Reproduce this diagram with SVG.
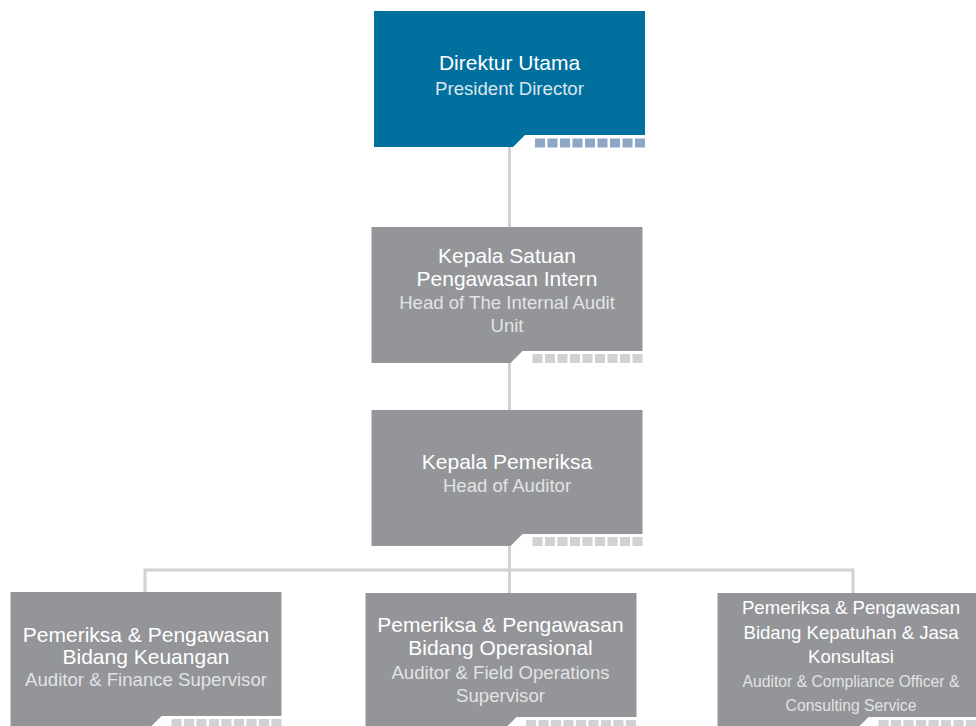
<svg xmlns="http://www.w3.org/2000/svg" width="976" height="726" viewBox="0 0 976 726">
<defs>
<style>
.blue{fill:#02709e}
.grey{fill:#939598}
.sqb{fill:#8fa7c6}
.sqg{fill:#d1d2d4}
.conn{stroke:#d1d2d4;stroke-width:3;fill:none}
text{font-family:"Liberation Sans",Arial,Helvetica,sans-serif;text-anchor:middle}
.t{fill:#ffffff;font-size:21px}
.s{fill:#e2e3e4;font-size:18.6px}
.sb{fill:#dbe6ee;font-size:18.6px}
.t2{fill:#ffffff;font-size:18.6px}
.s2{fill:#e2e3e4;font-size:15.7px}
</style>
<g id="sqblue" class="sqb">
<rect x="0" y="0" width="10" height="9"/><rect x="12.5" y="0" width="10" height="9"/><rect x="25" y="0" width="10" height="9"/><rect x="37.5" y="0" width="10" height="9"/><rect x="50" y="0" width="10" height="9"/><rect x="62.5" y="0" width="10" height="9"/><rect x="75" y="0" width="10" height="9"/><rect x="87.5" y="0" width="10" height="9"/><rect x="100" y="0" width="10" height="9"/>
</g>
<g id="sqgrey" class="sqg">
<rect x="0" y="0" width="10" height="9"/><rect x="12.5" y="0" width="10" height="9"/><rect x="25" y="0" width="10" height="9"/><rect x="37.5" y="0" width="10" height="9"/><rect x="50" y="0" width="10" height="9"/><rect x="62.5" y="0" width="10" height="9"/><rect x="75" y="0" width="10" height="9"/><rect x="87.5" y="0" width="10" height="9"/><rect x="100" y="0" width="10" height="9"/>
</g>
<path id="shape" d="M0 0 H271 V124 H151 L139 136 H0 Z"/>
</defs>

<g id="connectors">
<line class="conn" x1="509.5" y1="147" x2="509.5" y2="227"/>
<line class="conn" x1="509.5" y1="363" x2="509.5" y2="410"/>
<line class="conn" x1="509.5" y1="546" x2="509.5" y2="593"/>
<polyline class="conn" points="145,592 145,570 853,570 853,593"/>
</g>

<g id="n1">
<use href="#shape" class="blue" x="374" y="11"/>
<use href="#sqblue" x="535" y="138.5"/>
<text class="t" x="509.5" y="70">Direktur Utama</text>
<text class="sb" x="509.5" y="95">President Director</text>
</g>

<g id="n2">
<use href="#shape" class="grey" x="371.5" y="227"/>
<use href="#sqgrey" x="532.5" y="354"/>
<text class="t" x="507" y="262.5">Kepala Satuan</text>
<text class="t" x="507" y="285.5">Pengawasan Intern</text>
<text class="s" x="507" y="309">Head of The Internal Audit</text>
<text class="s" x="507" y="332">Unit</text>
</g>

<g id="n3">
<use href="#shape" class="grey" x="371.5" y="410"/>
<use href="#sqgrey" x="532.5" y="537"/>
<text class="t" x="507" y="469">Kepala Pemeriksa</text>
<text class="s" x="507" y="492.3">Head of Auditor</text>
</g>

<g id="n4">
<use href="#shape" class="grey" x="10.5" y="592"/>
<use href="#sqgrey" x="171.5" y="719"/>
<text class="t" x="146" y="641.5">Pemeriksa &amp; Pengawasan</text>
<text class="t" x="146" y="663.5">Bidang Keuangan</text>
<text class="s" x="146" y="686">Auditor &amp; Finance Supervisor</text>
</g>

<g id="n5">
<use href="#shape" class="grey" x="365.5" y="593"/>
<use href="#sqgrey" x="526" y="720"/>
<text class="t" x="500.5" y="631.5">Pemeriksa &amp; Pengawasan</text>
<text class="t" x="500.5" y="655">Bidang Operasional</text>
<text class="s" x="500.5" y="679.3">Auditor &amp; Field Operations</text>
<text class="s" x="500.5" y="701.7">Supervisor</text>
</g>

<g id="n6">
<use href="#shape" class="grey" x="717.5" y="593"/>
<use href="#sqgrey" x="878.5" y="720"/>
<text class="t2" x="851" y="614">Pemeriksa &amp; Pengawasan</text>
<text class="t2" x="851" y="638.5">Bidang Kepatuhan &amp; Jasa</text>
<text class="t2" x="851" y="663">Konsultasi</text>
<text class="s2" x="851" y="687">Auditor &amp; Compliance Officer &amp;</text>
<text class="s2" x="851" y="711">Consulting Service</text>
</g>
</svg>
